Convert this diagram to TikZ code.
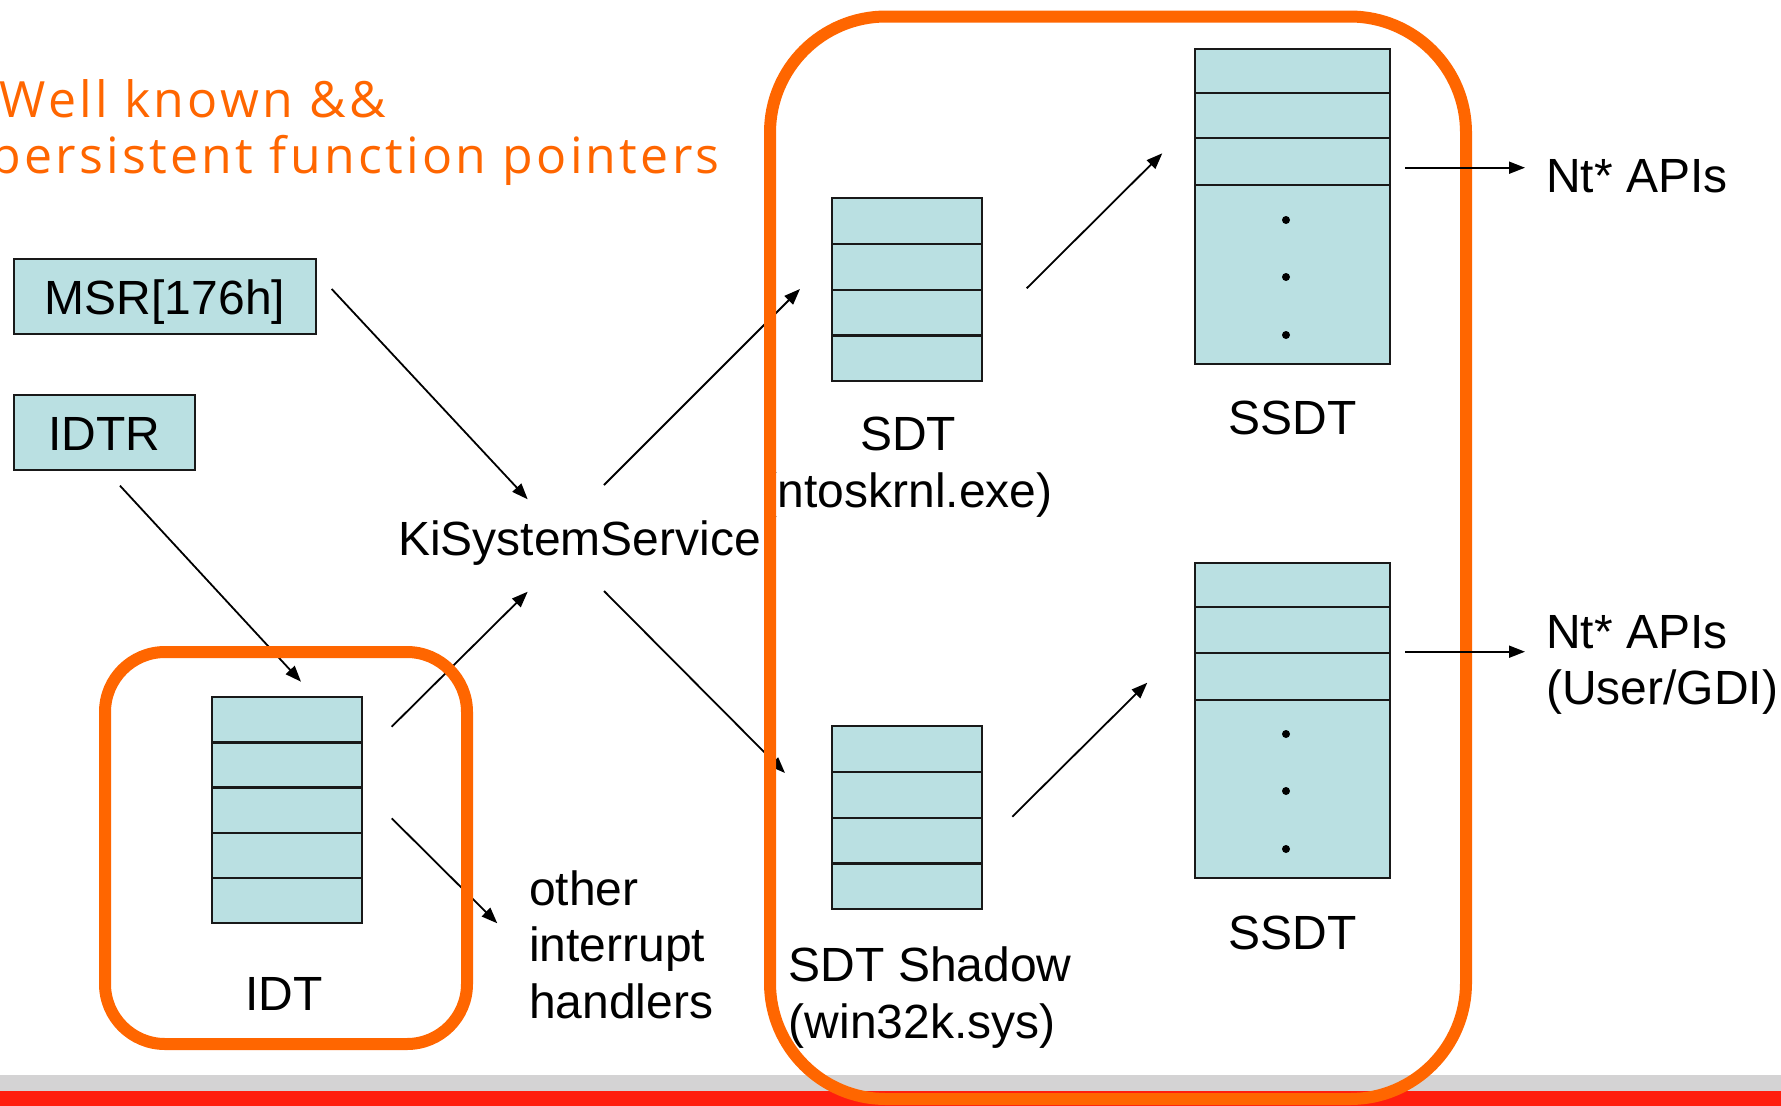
\documentclass[tikz,border=0pt]{standalone}
\usepackage{fontspec}
\setmainfont{Liberation Sans}
\newfontfamily\titlefont[LetterSpace=6.6]{Open Sans}
\usetikzlibrary{arrows.meta}
\definecolor{cellblue}{RGB}{186,224,226}
\definecolor{hlorange}{RGB}{255,102,0}
\definecolor{bandgray}{RGB}{212,211,212}
\definecolor{bandred}{RGB}{255,30,14}
\tikzset{
  lbl/.style={font=\fontsize{48}{56.5}\selectfont, inner sep=0pt, text=black},
  ttl/.style={font=\titlefont\fontsize{50}{56}\selectfont, inner sep=0pt, text=hlorange},
  regbox/.style={draw=black!90, fill=cellblue, line width=2pt, inner sep=0pt,
    text height=35pt, text depth=0pt, font=\fontsize{48}{56.5}\selectfont},
  cell/.style={draw=black!90, fill=cellblue, line width=2.4pt, inner sep=0pt, anchor=north west},
  ptr/.style={line width=1.8pt, -{Triangle[length=16pt,width=12pt]}},
  hl/.style={draw=hlorange, line width=12pt, inner sep=0pt},
  dotm/.style={circle, fill=black, inner sep=0pt, minimum size=8pt}
}
\begin{document}
\begin{tikzpicture}[x=1pt,y=-1pt]
\useasboundingbox (0,0) rectangle (1781,1106);
\clip (0,0) rectangle (1781,1106);
\fill[white] (0,0) rectangle (1781,1106);
% bottom bands
\fill[bandgray] (0,1075) rectangle (1781,1091);
\fill[bandred] (0,1091) rectangle (1781,1106);

% title
\node[ttl, anchor=base east] (t1) at (386,117) {Well known \&\&};
\node[ttl, anchor=base east] (t2) at (720,173.3) {persistent function pointers};

% registers
\node[regbox, minimum width=302pt, minimum height=75pt] (msr) at (165,296.5) {MSR[176h]};
\node[regbox, minimum width=181pt, minimum height=75pt] (idtr) at (104.5,432.5) {IDTR};

% IDT table
\node[cell, minimum width=150pt, minimum height=45.2pt] (idt1) at (211,696) {};
\node[cell, minimum width=150pt, minimum height=45.2pt] (idt2) at (211,741.2) {};
\node[cell, minimum width=150pt, minimum height=45.2pt] (idt3) at (211,786.4) {};
\node[cell, minimum width=150pt, minimum height=45.2pt] (idt4) at (211,831.6) {};
\node[cell, minimum width=150pt, minimum height=45.2pt] (idt5) at (211,876.8) {};
\node[lbl, anchor=base] (idtlbl) at (284,1010) {IDT};

% SDT table
\node[cell, minimum width=150pt, minimum height=45.75pt] (sdt1) at (831,197) {};
\node[cell, minimum width=150pt, minimum height=45.75pt] (sdt2) at (831,242.75) {};
\node[cell, minimum width=150pt, minimum height=45.75pt] (sdt3) at (831,288.5) {};
\node[cell, minimum width=150pt, minimum height=45.75pt] (sdt4) at (831,334.25) {};
\node[lbl, anchor=base] (sdtlbl) at (908,450.7) {SDT};
\node[lbl, anchor=base] (sdtlbl2) at (907,507.5) {(ntoskrnl.exe)};

% SDT Shadow table
\node[cell, minimum width=150pt, minimum height=45.75pt] (sh1) at (831,725) {};
\node[cell, minimum width=150pt, minimum height=45.75pt] (sh2) at (831,770.75) {};
\node[cell, minimum width=150pt, minimum height=45.75pt] (sh3) at (831,816.5) {};
\node[cell, minimum width=150pt, minimum height=45.75pt] (sh4) at (831,862.25) {};
\node[lbl, anchor=base west] (shlbl) at (788.5,981.7) {SDT Shadow};
\node[lbl, anchor=base west] (shlbl2) at (788.5,1038.2) {(win32k.sys)};

% SSDT 1
\node[cell, minimum width=195pt, minimum height=44pt] (sa1) at (1194,48) {};
\node[cell, minimum width=195pt, minimum height=45pt] (sa2) at (1194,92) {};
\node[cell, minimum width=195pt, minimum height=46.5pt] (sa3) at (1194,137) {};
\node[cell, minimum width=195pt, minimum height=179.5pt] (sa4) at (1194,183.5) {};
\node[dotm] (sad1) at (1286,220) {};
\node[dotm] (sad2) at (1286,277) {};
\node[dotm] (sad3) at (1286,335) {};
\node[lbl, anchor=base] (salbl) at (1292.5,434.3) {SSDT};

% SSDT 2
\node[cell, minimum width=195pt, minimum height=44pt] (sb1) at (1194,562) {};
\node[cell, minimum width=195pt, minimum height=45.5pt] (sb2) at (1194,606) {};
\node[cell, minimum width=195pt, minimum height=47.5pt] (sb3) at (1194,651.5) {};
\node[cell, minimum width=195pt, minimum height=178pt] (sb4) at (1194,699) {};
\node[dotm] (sbd1) at (1286,734) {};
\node[dotm] (sbd2) at (1286,791) {};
\node[dotm] (sbd3) at (1286,849) {};
\node[lbl, anchor=base] (sblbl) at (1292.5,949.3) {SSDT};

% free labels
\node[lbl, anchor=base west] (ki) at (398,555) {KiSystemService};
\node[lbl, anchor=base west] (oth1) at (529,905) {other};
\node[lbl, anchor=base west] (oth2) at (529,961.5) {interrupt};
\node[lbl, anchor=base west] (oth3) at (529,1018) {handlers};
\node[lbl, anchor=base west] (nta) at (1546,192.7) {Nt* APIs};
\node[lbl, anchor=base west] (ntb) at (1546,648.3) {Nt* APIs};
\node[lbl, anchor=base west] (ntb2) at (1546,704.8) {(User/GDI)};

% arrow end points
\coordinate (msrout) at (331.7,289);
\coordinate (kiin1) at (527.7,499.3);
\coordinate (idtrout) at (120,485.7);
\coordinate (idtin) at (301,681.7);
\coordinate (idtout1) at (391.7,726.7);
\coordinate (kiin2) at (527.7,591.7);
\coordinate (idtout2) at (391.7,818.3);
\coordinate (othin) at (497.3,923.3);
\coordinate (kiout1) at (604,485);
\coordinate (sdtin) at (800,289);
\coordinate (kiout2) at (604,591);
\coordinate (shin) at (785,773);
\coordinate (sdtout) at (1026.7,288.3);
\coordinate (sain) at (1162.3,153.3);
\coordinate (shout) at (1012.3,816.7);
\coordinate (sbin) at (1147.3,682.7);
\coordinate (saout) at (1405,167.7);
\coordinate (ntain) at (1525,167.7);
\coordinate (sbout) at (1405,651.7);
\coordinate (ntbin) at (1525,651.7);

\draw[ptr] (msrout) -- (kiin1);
\draw[ptr] (idtrout) -- (idtin);
\draw[ptr] (idtout1) -- (kiin2);
\draw[ptr] (idtout2) -- (othin);
\draw[ptr] (kiout1) -- (sdtin);
\draw[ptr] (kiout2) -- (shin);
\draw[ptr] (sdtout) -- (sain);
\draw[ptr] (shout) -- (sbin);

% orange highlight groups
\node[hl, rounded corners=60pt, minimum width=362pt, minimum height=392pt] (idtgrp) at (286,848) {};
\node[hl, rounded corners=116pt, minimum width=696pt, minimum height=1082.5pt] (kgrp) at (1118,557.75) {};

\draw[ptr] (saout) -- (ntain);
\draw[ptr] (sbout) -- (ntbin);
\end{tikzpicture}
\end{document}
